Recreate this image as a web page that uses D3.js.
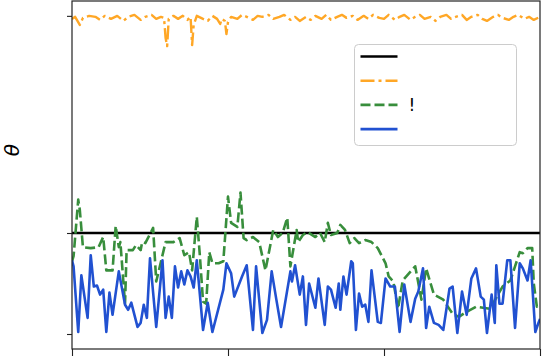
<!DOCTYPE html>
<html>
<head>
<meta charset="utf-8">
<script src="https://cdn.jsdelivr.net/npm/d3@7"></script>
<style>
  html, body { margin: 0; padding: 0; background: #fff; }
  svg { display: block; }
</style>
</head>
<body>
<svg id="chart" width="542" height="356"></svg>
<script>
// series values, as [step, theta]
const refSeries = [[0, 0], [300, 0]];

const orangeSeries = [
  [0, 2.12], [2, 2.14], [5, 2.06], [7, 2.13], [11, 2.15], [15, 2.14], [18, 2.11], [21, 2.15],
  [25, 2.12], [29, 2.15], [33, 2.10], [36, 2.14], [40, 2.16], [44, 2.11], [47, 2.14], [51, 2.16],
  [54, 2.12], [57, 2.14], [59, 2.13], [60, 1.93], [61, 1.85], [62, 2.12], [65, 2.15], [68, 2.12],
  [71, 2.15], [74, 2.11], [76, 2.14], [77, 1.86], [78, 2.06], [80, 2.15], [84, 2.12], [87, 2.10],
  [90, 2.15], [93, 2.12], [95, 2.07], [96, 2.12], [98, 2.10], [99, 1.97], [100, 2.09], [102, 2.14],
  [106, 2.12], [109, 2.16], [112, 2.14], [116, 2.11], [119, 2.15], [122, 2.14], [126, 2.16], [129, 2.12],
  [133, 2.14], [136, 2.16], [140, 2.11], [143, 2.14], [146, 2.10], [150, 2.14], [153, 2.11], [156, 2.15],
  [160, 2.12], [163, 2.16], [166, 2.11], [170, 2.14], [173, 2.16], [176, 2.13], [180, 2.15], [183, 2.11],
  [187, 2.15], [190, 2.12], [193, 2.16], [197, 2.13], [200, 2.12], [203, 2.16], [207, 2.11], [210, 2.14],
  [213, 2.16], [217, 2.11], [220, 2.14], [223, 2.16], [226, 2.12], [230, 2.14], [233, 2.10], [236, 2.14],
  [240, 2.16], [243, 2.12], [246, 2.14], [250, 2.16], [253, 2.11], [256, 2.14], [260, 2.16], [263, 2.12],
  [266, 2.10], [270, 2.14], [273, 2.16], [276, 2.13], [280, 2.11], [283, 2.14], [286, 2.16], [290, 2.12],
  [293, 2.14], [296, 2.11], [300, 2.14]
];

const greenSeries = [
  [0, -0.28], [1, -0.23], [4, 0.33], [5, 0.23], [7, -0.14], [12, -0.15], [17, -0.14], [20, -0.04],
  [22, -0.37], [26, -0.37], [28, 0.07], [30, -0.14], [31, -0.09], [34, -0.70], [35, -0.17], [39, -0.17],
  [41, -0.12], [44, -0.17], [45, -0.09], [47, -0.10], [52, 0.05], [54, -0.48], [60, -0.09], [65, -0.09],
  [69, -0.05], [72, -0.22], [75, -0.19], [77, -0.37], [80, 0.16], [82, -0.23], [84, -0.68], [86, -0.70],
  [88, -0.19], [90, -0.30], [94, -0.30], [97, -0.28], [100, 0.36], [102, 0.10], [106, 0.06], [108, 0.40],
  [110, -0.05], [112, -0.07], [116, -0.04], [120, -0.09], [124, -0.37], [129, 0.03], [132, -0.04], [135, 0.00],
  [138, 0.15], [140, -0.33], [144, 0.03], [145, -0.09], [148, -0.02], [151, 0.01], [156, -0.04], [159, 0.00],
  [162, -0.09], [164, 0.10], [166, -0.02], [170, 0.00], [172, 0.08], [175, 0.03], [178, -0.10], [181, -0.05],
  [184, -0.10], [188, -0.07], [192, -0.09], [196, -0.15], [201, -0.30], [203, -0.43], [206, -0.48], [209, -0.75],
  [212, -0.47], [216, -0.40], [220, -0.33], [224, -0.66], [227, -0.35], [232, -0.61], [238, -0.66], [244, -0.80],
  [248, -0.83], [253, -0.78], [259, -0.73], [268, -0.75], [276, -0.53], [281, -0.47], [284, -0.33], [287, -0.19],
  [289, -0.20], [292, -0.15], [295, -0.15], [296, -0.50], [298, -0.73], [300, -0.73]
];

const blueSeries = [
  [0, -0.27], [1, -0.33], [4, -0.98], [6, -0.42], [10, -0.84], [12, -0.22], [14, -0.53], [16, -0.52],
  [18, -0.61], [20, -0.56], [22, -0.98], [24, -0.59], [26, -0.81], [30, -0.38], [34, -0.71], [36, -0.76],
  [38, -0.69], [42, -0.93], [44, -0.89], [46, -0.71], [48, -0.84], [50, -0.25], [54, -0.93], [58, -0.27],
  [60, -0.84], [62, -0.63], [64, -0.84], [66, -0.33], [68, -0.54], [70, -0.38], [72, -0.51], [74, -0.37],
  [76, -0.43], [78, -0.54], [80, -0.27], [84, -0.96], [87, -0.69], [90, -0.98], [97, -0.56], [99, -0.30],
  [102, -0.40], [104, -0.63], [109, -0.43], [112, -0.32], [116, -0.96], [118, -0.33], [122, -0.99], [125, -0.86],
  [128, -0.38], [131, -0.66], [134, -0.93], [140, -0.38], [141, -0.48], [143, -0.32], [146, -0.61], [148, -0.43],
  [150, -0.91], [152, -0.50], [156, -0.74], [158, -0.45], [162, -0.91], [164, -0.53], [166, -0.56], [169, -0.74],
  [171, -0.50], [172, -0.76], [174, -0.43], [176, -0.61], [179, -0.28], [180, -0.30], [182, -0.96], [184, -0.60],
  [186, -0.73], [188, -0.71], [190, -0.88], [192, -0.37], [196, -0.88], [198, -0.89], [201, -0.45], [204, -0.53],
  [207, -0.53], [210, -0.98], [213, -0.51], [217, -0.88], [220, -0.65], [222, -0.58], [225, -0.35], [227, -0.94],
  [229, -0.73], [232, -0.89], [235, -0.91], [238, -0.96], [242, -0.55], [244, -0.53], [247, -0.99], [250, -0.58],
  [253, -0.81], [256, -0.45], [259, -0.35], [262, -0.63], [264, -0.66], [266, -0.99], [269, -0.61], [271, -0.89],
  [272, -0.32], [274, -0.70], [276, -0.70], [279, -0.27], [281, -0.27], [284, -0.94], [287, -0.30], [289, -0.35],
  [292, -0.47], [294, -0.27], [297, -0.98], [299, -0.89], [300, -0.85]
];

const xTicks = [0, 100, 200, 300];
const yTicks = [-1, 0, 2.15];
const legendLabels = ["", "", "!", ""];
const yLabel = "θ";

const plot = { left: 72, right: 540, top: 1, bottom: 349 };

const svg = d3.select("#chart");

const x = d3.scaleLinear().domain([0, 300]).range([plot.left, plot.right]);
const y = d3.scaleLinear().domain([-1, 0]).range([334, 233]);

svg.append("defs").append("clipPath").attr("id", "clip")
  .append("rect")
  .attr("x", plot.left).attr("y", plot.top)
  .attr("width", plot.right - plot.left).attr("height", plot.bottom - plot.top);

const line = d3.line().x(d => x(d[0])).y(d => y(d[1]));

const series = [
  { data: refSeries, color: "#000000", width: 2.5, dash: null },
  { data: orangeSeries, color: "#ffa726", width: 2.4, dash: "14,4,3,4" },
  { data: greenSeries, color: "#388e3c", width: 2.6, dash: "10,4" },
  { data: blueSeries, color: "#2151d1", width: 2.6, dash: null }
];

svg.append("g").attr("clip-path", "url(#clip)")
  .selectAll("path")
  .data(series)
  .join("path")
  .attr("d", d => line(d.data))
  .attr("fill", "none")
  .attr("stroke", d => d.color)
  .attr("stroke-width", d => d.width)
  .attr("stroke-dasharray", d => d.dash)
  .attr("stroke-linejoin", "round");

// axes: ticks only, the labels fall outside the cropped figure
const yAxis = svg.append("g")
  .attr("transform", `translate(${plot.left},0)`)
  .call(d3.axisLeft(y).tickValues(yTicks).tickSize(5).tickFormat(""));
const xAxis = svg.append("g")
  .attr("transform", `translate(0,${plot.bottom})`)
  .call(d3.axisBottom(x).tickValues(xTicks).tickSize(8).tickFormat(""));
[yAxis, xAxis].forEach(g => {
  g.select(".domain").remove();
  g.selectAll(".tick line").attr("stroke", "#222").attr("stroke-width", 1.1);
});

svg.append("rect")
  .attr("x", plot.left).attr("y", plot.top)
  .attr("width", plot.right - plot.left).attr("height", plot.bottom - plot.top)
  .attr("fill", "none")
  .attr("stroke", "#222")
  .attr("stroke-width", 1.2);

svg.append("text")
  .attr("transform", "translate(19,150) rotate(-90)")
  .attr("text-anchor", "middle")
  .attr("font-family", "DejaVu Sans")
  .attr("font-style", "italic")
  .attr("font-size", 20)
  .text(yLabel);

// legend
const legend = svg.append("g").attr("transform", "translate(354.5,44.5)");
legend.append("rect")
  .attr("width", 162).attr("height", 101)
  .attr("rx", 4)
  .attr("fill", "#fff").attr("fill-opacity", 0.8)
  .attr("stroke", "#cccccc").attr("stroke-width", 1);

const item = legend.selectAll("g.item")
  .data(series)
  .join("g")
  .attr("class", "item")
  .attr("transform", (d, i) => `translate(0,${12 + i * 24.2})`);
item.append("line")
  .attr("x1", 6).attr("x2", 43)
  .attr("stroke", d => d.color)
  .attr("stroke-width", d => d.width)
  .attr("stroke-dasharray", d => d.dash);
item.append("text")
  .attr("x", 54).attr("y", 6)
  .attr("font-family", "DejaVu Sans")
  .attr("font-size", 17)
  .text((d, i) => legendLabels[i]);
</script>
</body>
</html>
